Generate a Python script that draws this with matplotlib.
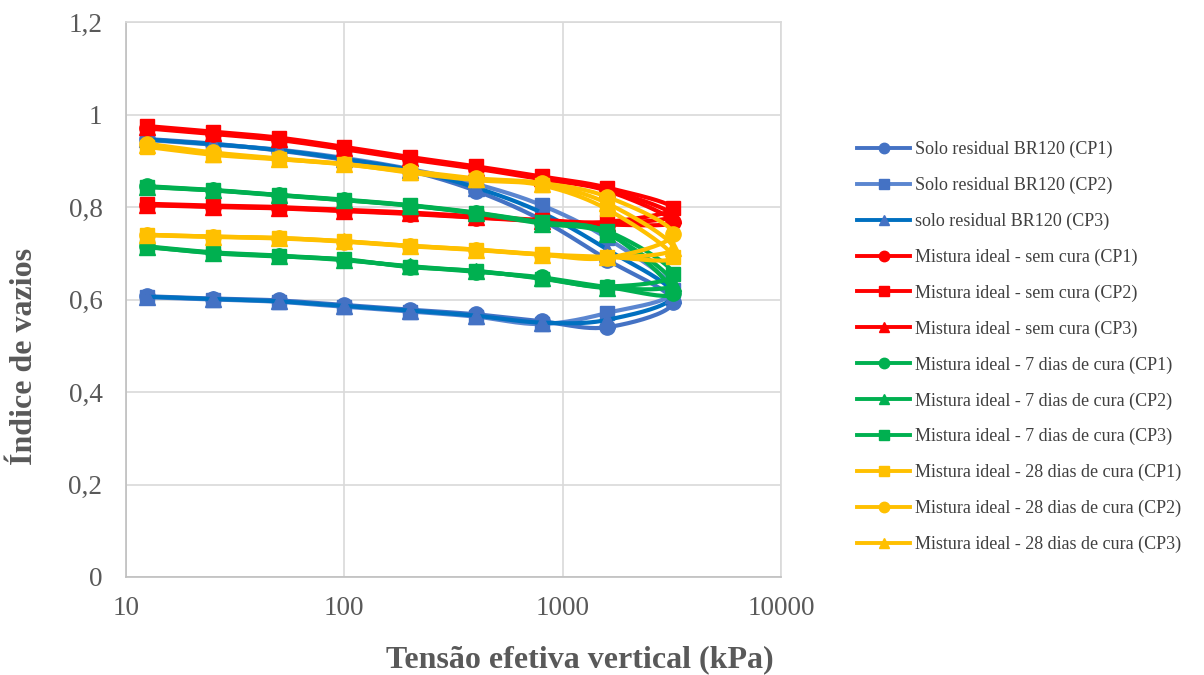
import numpy as np
import matplotlib
matplotlib.use("Agg")
import matplotlib.pyplot as plt
from matplotlib.lines import Line2D

# ensaio de adensamento: carregamento 12.5 -> 3200 e descarregamento 3200 -> 12.5
tensao = [12.5, 25, 50, 100, 200, 400, 800, 1600, 3200, 1600, 800, 400, 200, 100, 50, 25, 12.5]

solo_cp1 = [0.947, 0.937, 0.922, 0.902, 0.878, 0.835, 0.772, 0.686, 0.595, 0.540, 0.553, 0.568, 0.578, 0.588, 0.598, 0.602, 0.607]
solo_cp2 = [0.945, 0.935, 0.924, 0.906, 0.882, 0.850, 0.804, 0.732, 0.620, 0.571, 0.547, 0.563, 0.574, 0.584, 0.595, 0.600, 0.605]
solo_cp3 = [0.946, 0.936, 0.923, 0.904, 0.880, 0.842, 0.788, 0.708, 0.610, 0.556, 0.550, 0.565, 0.576, 0.586, 0.596, 0.601, 0.606]

sem_cp1 = [0.970, 0.958, 0.945, 0.925, 0.903, 0.883, 0.860, 0.835, 0.768, 0.762, 0.769, 0.777, 0.785, 0.791, 0.797, 0.800, 0.804]
sem_cp2 = [0.975, 0.963, 0.950, 0.930, 0.908, 0.888, 0.866, 0.842, 0.797, 0.768, 0.772, 0.780, 0.788, 0.794, 0.800, 0.803, 0.807]
sem_cp3 = [0.972, 0.960, 0.947, 0.927, 0.905, 0.885, 0.863, 0.838, 0.782, 0.765, 0.770, 0.778, 0.786, 0.792, 0.798, 0.801, 0.805]

d7_cp1 = [0.845, 0.837, 0.826, 0.815, 0.803, 0.787, 0.766, 0.745, 0.615, 0.627, 0.648, 0.660, 0.671, 0.686, 0.695, 0.702, 0.715]
d7_cp2 = [0.843, 0.836, 0.825, 0.815, 0.803, 0.786, 0.764, 0.742, 0.635, 0.625, 0.646, 0.661, 0.672, 0.685, 0.694, 0.701, 0.713]
d7_cp3 = [0.844, 0.836, 0.826, 0.816, 0.804, 0.788, 0.767, 0.748, 0.655, 0.628, 0.645, 0.662, 0.670, 0.687, 0.693, 0.700, 0.714]

d28_cp1 = [0.930, 0.913, 0.903, 0.893, 0.874, 0.858, 0.847, 0.795, 0.692, 0.692, 0.698, 0.708, 0.716, 0.726, 0.733, 0.736, 0.740]
d28_cp2 = [0.937, 0.918, 0.905, 0.893, 0.878, 0.862, 0.852, 0.822, 0.742, 0.690, 0.697, 0.707, 0.715, 0.725, 0.732, 0.735, 0.739]
d28_cp3 = [0.933, 0.915, 0.904, 0.892, 0.876, 0.860, 0.850, 0.808, 0.712, 0.691, 0.697, 0.708, 0.716, 0.726, 0.733, 0.736, 0.740]

nomes = ["Solo residual BR120 (CP1)", "Solo residual BR120 (CP2)", "solo residual BR120 (CP3)",
         "Mistura ideal - sem cura (CP1)", "Mistura ideal - sem cura (CP2)", "Mistura ideal - sem cura (CP3)",
         "Mistura ideal - 7 dias de cura (CP1)", "Mistura ideal - 7 dias de cura (CP2)", "Mistura ideal - 7 dias de cura (CP3)",
         "Mistura ideal - 28 dias de cura (CP1)", "Mistura ideal - 28 dias de cura (CP2)", "Mistura ideal - 28 dias de cura (CP3)"]
dados = [solo_cp1, solo_cp2, solo_cp3, sem_cp1, sem_cp2, sem_cp3,
         d7_cp1, d7_cp2, d7_cp3, d28_cp1, d28_cp2, d28_cp3]

# (cor da linha, cor do marcador, marcador)
estilos = [("#4472C4", "#4472C4", "o"), ("#5B86D0", "#4472C4", "s"), ("#0070C0", "#4472C4", "^"),
           ("#FF0000", "#FF0000", "o"), ("#FF0000", "#FF0000", "s"), ("#FF0000", "#FF0000", "^"),
           ("#00B050", "#00B050", "o"), ("#00B050", "#00B050", "^"), ("#00B050", "#00B050", "s"),
           ("#FFC000", "#FFC000", "s"), ("#FFC000", "#FFC000", "o"), ("#FFC000", "#FFC000", "^")]

plt.rcParams['font.family'] = ['Liberation Serif', 'DejaVu Serif']

fig = plt.figure(figsize=(12.04, 6.75), dpi=100)
ax = fig.add_axes([126/1204, 1-577/675, (781-126)/1204, (577-22)/675])
ax.set_xscale('log')
ax.set_xlim(10, 10000)
ax.set_ylim(0, 1.2)


def suavizar(x, y, n=24):
    # curva suavizada tipo Excel (Bezier de Catmull-Rom) em coordenadas de tela
    pts = ax.transData.transform(np.column_stack([x, y]))
    P = np.vstack([pts[0], pts, pts[-1]])
    t = np.linspace(0, 1, n)[:, None]
    seg = []
    for i in range(len(pts) - 1):
        p0, p1, p2, p3 = P[i], P[i+1], P[i+2], P[i+3]
        c1 = p1 + (p2 - p0) / 6
        c2 = p2 - (p3 - p1) / 6
        b = ((1-t)**3)*p1 + 3*((1-t)**2)*t*c1 + 3*(1-t)*t**2*c2 + t**3*p2
        seg.append(b if i == 0 else b[1:])
    curva = ax.transData.inverted().transform(np.vstack(seg))
    return curva[:, 0], curva[:, 1]


handles = []
for vals, nome, (cl, cm, mk) in zip(dados, nomes, estilos):
    xs, ys = suavizar(tensao, vals)
    ax.plot(xs, ys, color=cl, lw=3.0, solid_capstyle='round')
    ms = 10 if mk == 's' else 11
    ax.plot(tensao, vals, ls='none', marker=mk, ms=ms, mfc=cm, mec=cm)
    handles.append(Line2D([], [], color=cl, lw=2.8, marker=mk, ms=7.5, mfc=cm, mec=cm, label=nome))

ax.set_yticks([0, 0.2, 0.4, 0.6, 0.8, 1.0, 1.2])
ax.set_yticklabels(["0", "0,2", "0,4", "0,6", "0,8", "1", "1,2"])
ax.set_xticks([10, 100, 1000, 10000])
ax.set_xticklabels(["10", "100", "1000", "10000"])
ax.minorticks_off()
ax.grid(True, color="#D9D9D9", lw=1.2)
ax.set_axisbelow(True)
for s in ax.spines.values():
    s.set_color("#D9D9D9")
    s.set_linewidth(1.2)
ax.spines['left'].set_color("#BFBFBF")
ax.spines['bottom'].set_color("#BFBFBF")
ax.tick_params(length=0, labelsize=19.5, labelcolor="#595959")
ax.tick_params(axis='x', pad=14)
ax.tick_params(axis='y', pad=17)

fig.text(580/1204, 1-660/675, "Tensão efetiva vertical (kPa)", ha='center', va='center',
         fontsize=23, fontweight='bold', color="#595959")
fig.text(25/1204, 1-356/675, "Índice de vazios", ha='center', va='center', rotation=90,
         fontsize=23, fontweight='bold', color="#595959")

fig.legend(handles=handles, loc='center left', bbox_to_anchor=(841/1204, 1-347/675),
           frameon=False, fontsize=13, handlelength=2.93, labelspacing=1.03,
           handletextpad=0.27, labelcolor="#404040")

fig.savefig("out.png", dpi=100)
